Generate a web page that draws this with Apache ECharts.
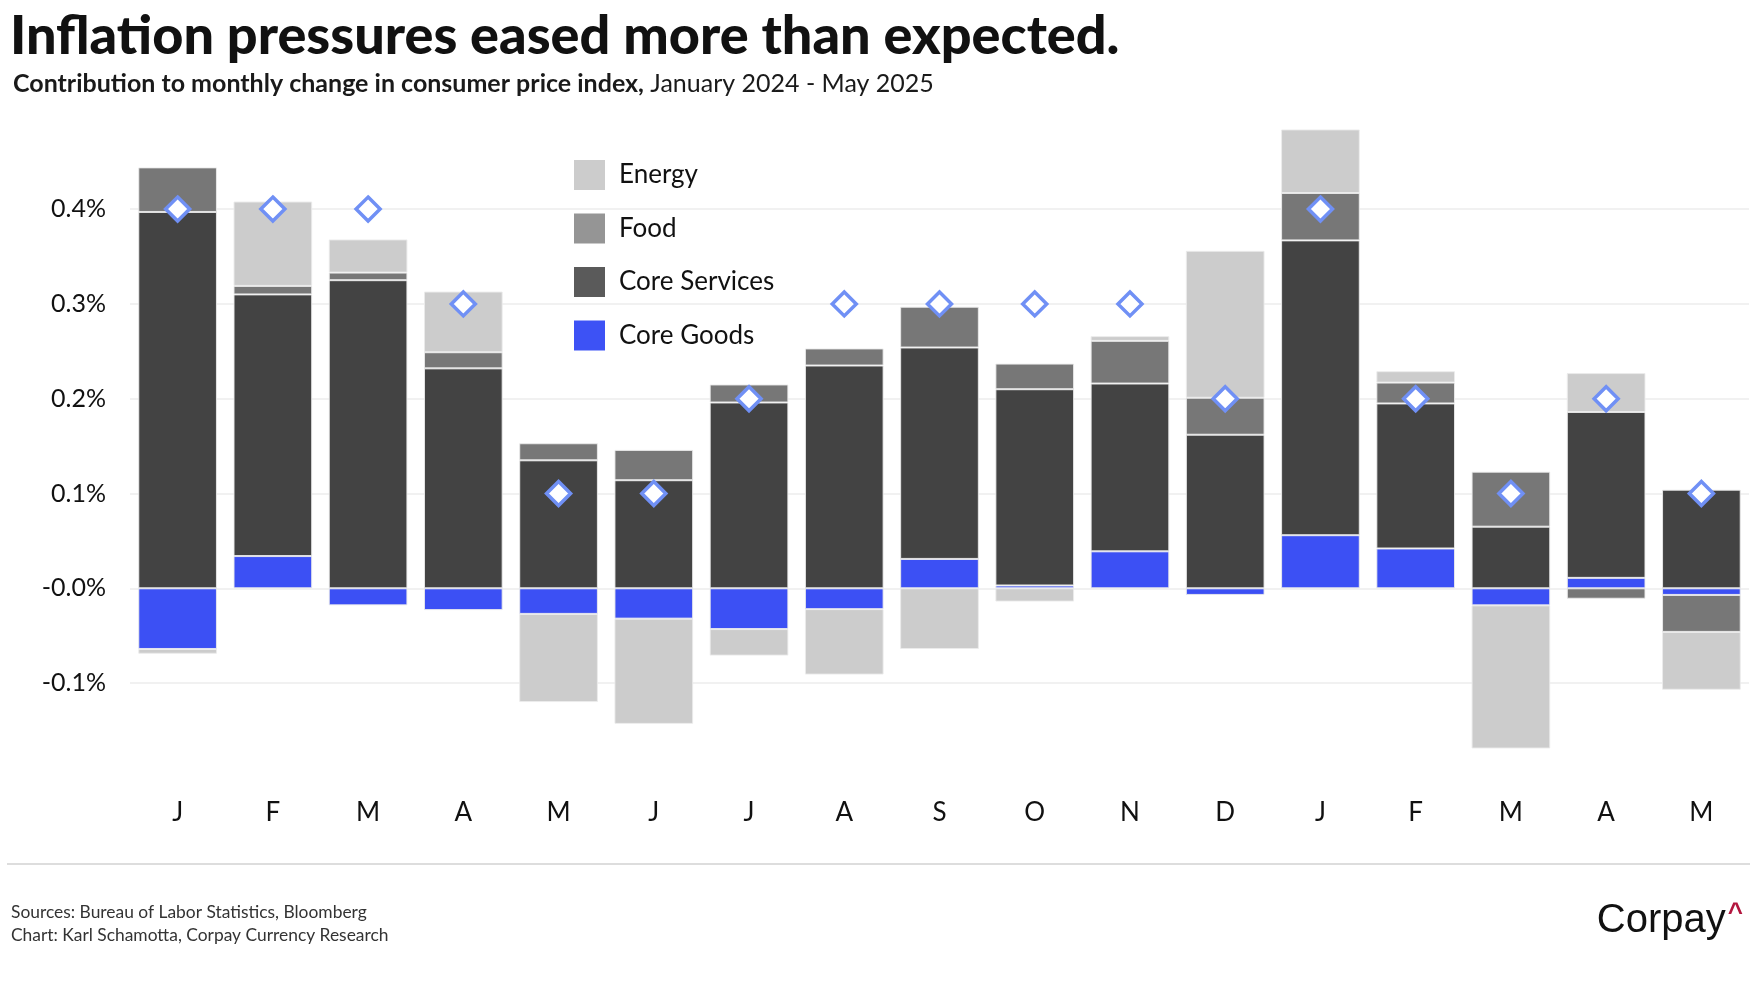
<!DOCTYPE html>
<html>
<head>
<meta charset="utf-8">
<script src="https://cdn.jsdelivr.net/npm/echarts@6/dist/echarts.min.js"></script>
<style>
html,body{margin:0;padding:0;background:#fff;}
#chart{width:1756px;height:1000px;}
</style>
</head>
<body>
<div id="chart"></div>
<script>
const months = ['J','F','M','A','M','J','J','A','S','O','N','D','J','F','M','A','M'];
const coreGoods    = [-0.064, 0.034, -0.018, -0.023, -0.027, -0.032, -0.043, -0.022, 0.031, 0.003, 0.039, -0.007, 0.056, 0.042, -0.018, 0.011, -0.007];
const coreServices = [0.397, 0.276, 0.325, 0.232, 0.135, 0.114, 0.196, 0.235, 0.223, 0.207, 0.177, 0.162, 0.311, 0.153, 0.065, 0.175, 0.104];
const food         = [0.047, 0.009, 0.008, 0.017, 0.018, 0.032, 0.019, 0.018, 0.043, 0.027, 0.045, 0.039, 0.050, 0.022, 0.058, -0.011, -0.039];
const energy       = [-0.005, 0.089, 0.035, 0.064, -0.093, -0.111, -0.028, -0.069, -0.064, -0.014, 0.005, 0.155, 0.067, 0.012, -0.151, 0.041, -0.061];
const headline     = [0.4, 0.4, 0.4, 0.3, 0.1, 0.1, 0.2, 0.3, 0.3, 0.3, 0.3, 0.2, 0.4, 0.2, 0.1, 0.2, 0.1];
const yTicks       = [-0.1, 0, 0.1, 0.2, 0.3, 0.4];
const yTickLabels  = ['-0.1%', '-0.0%', '0.1%', '0.2%', '0.3%', '0.4%'];

const titleText = 'Inflation pressures eased more than expected.';
const subtitleBold = 'Contribution to monthly change in consumer price index,';
const subtitleRest = ' January 2024 - May 2025';
const source1 = 'Sources: Bureau of Labor Statistics, Bloomberg';
const source2 = 'Chart: Karl Schamotta, Corpay Currency Research';

const FONT = 'Lato, "Noto Sans", sans-serif';
const chart = echarts.init(document.getElementById('chart'), null, {renderer: 'canvas'});

const barBorder = {borderColor: 'rgba(235,235,235,0.9)', borderWidth: 1};

const option = {
  backgroundColor: '#ffffff',
  animation: false,
  title: [
    {text: titleText, left: 5, top: 5,
     textStyle: {fontFamily: FONT, fontSize: 54, fontWeight: 900, color: '#111111'}},
    {text: '{b|' + subtitleBold + '}{n|' + subtitleRest + '}', left: 8, top: 66,
     textStyle: {fontWeight: 'normal', rich: {
       b: {fontFamily: FONT, fontSize: 25, fontWeight: 'bold', color: '#1a1a1a'},
       n: {fontFamily: FONT, fontSize: 25, fontWeight: 'normal', color: '#1a1a1a'}
     }}},
    {text: source1 + '\n' + source2, left: 6, top: 896,
     textStyle: {fontFamily: FONT, fontSize: 17.4, fontWeight: 'normal', color: '#333333', lineHeight: 23}},
    {text: '{c|Corpay}{k|^}', right: 8, top: 896,
     textStyle: {fontWeight: 'normal', rich: {
       c: {fontFamily: '"Liberation Sans", Arial, sans-serif', fontSize: 40, fontWeight: 'normal', color: '#111111'},
       k: {fontFamily: '"Liberation Sans", Arial, sans-serif', fontSize: 26, fontWeight: 'bold', color: '#b3173f', verticalAlign: 'top', padding: [0,0,14,2]}
     }}}
  ],
  legend: {
    orient: 'vertical', left: 569, top: 155,
    itemWidth: 31, itemHeight: 30, itemGap: 23.5,
    icon: 'rect',
    selectedMode: false,
    textStyle: {fontFamily: FONT, fontSize: 26, color: '#111111', padding: [0, 0, 0, 9]},
    data: [
      {name: 'Energy', itemStyle: {color: '#cccccc', borderWidth: 0}},
      {name: 'Food', itemStyle: {color: '#959595', borderWidth: 0}},
      {name: 'Core Services', itemStyle: {color: '#5a5a5a', borderWidth: 0}},
      {name: 'Core Goods', itemStyle: {color: '#3d52f5', borderWidth: 0}}
    ]
  },
  grid: {left: 130, right: 7, top: 114.3, bottom: 222.1, containLabel: false},
  xAxis: {
    type: 'category', data: months,
    axisLine: {show: false}, axisTick: {show: false},
    axisLabel: {fontFamily: FONT, fontSize: 26, color: '#111111', margin: 22}
  },
  yAxis: {
    type: 'value', min: -0.2, max: 0.5, interval: 0.1,
    axisLine: {show: false}, axisTick: {show: false},
    axisLabel: {fontFamily: FONT, fontSize: 25, color: '#111111', margin: 24,
      showMinLabel: false, showMaxLabel: false,
      formatter: function (v) {
        const i = yTicks.findIndex(t => Math.abs(t - v) < 1e-9);
        return i >= 0 ? yTickLabels[i] : '';
      }},
    splitLine: {show: true, showMinLine: false, showMaxLine: false, lineStyle: {color: '#ececec', width: 1.5}}
  },
  series: [
    {name: 'Core Goods', type: 'bar', stack: 'cpi', stackStrategy: 'samesign', barWidth: '82.6%', data: coreGoods,
     itemStyle: Object.assign({color: '#3c50f4'}, barBorder)},
    {name: 'Core Services', type: 'bar', stack: 'cpi', stackStrategy: 'samesign', data: coreServices,
     itemStyle: Object.assign({color: '#434343'}, barBorder)},
    {name: 'Food', type: 'bar', stack: 'cpi', stackStrategy: 'samesign', data: food,
     itemStyle: Object.assign({color: '#777777'}, barBorder)},
    {name: 'Energy', type: 'bar', stack: 'cpi', stackStrategy: 'samesign', data: energy,
     itemStyle: Object.assign({color: '#cccccc'}, barBorder)},
    {name: 'Headline', type: 'scatter', data: headline, symbol: 'diamond', symbolSize: 24, z: 10,
     itemStyle: {color: '#ffffff', borderColor: '#7090f5', borderWidth: 3.5, opacity: 1}}
  ],
  graphic: [
    {type: 'line', shape: {x1: 7, y1: 864, x2: 1750, y2: 864}, style: {stroke: '#dddddd', lineWidth: 2}, silent: true}
  ]
};
chart.setOption(option);
</script>
</body>
</html>
